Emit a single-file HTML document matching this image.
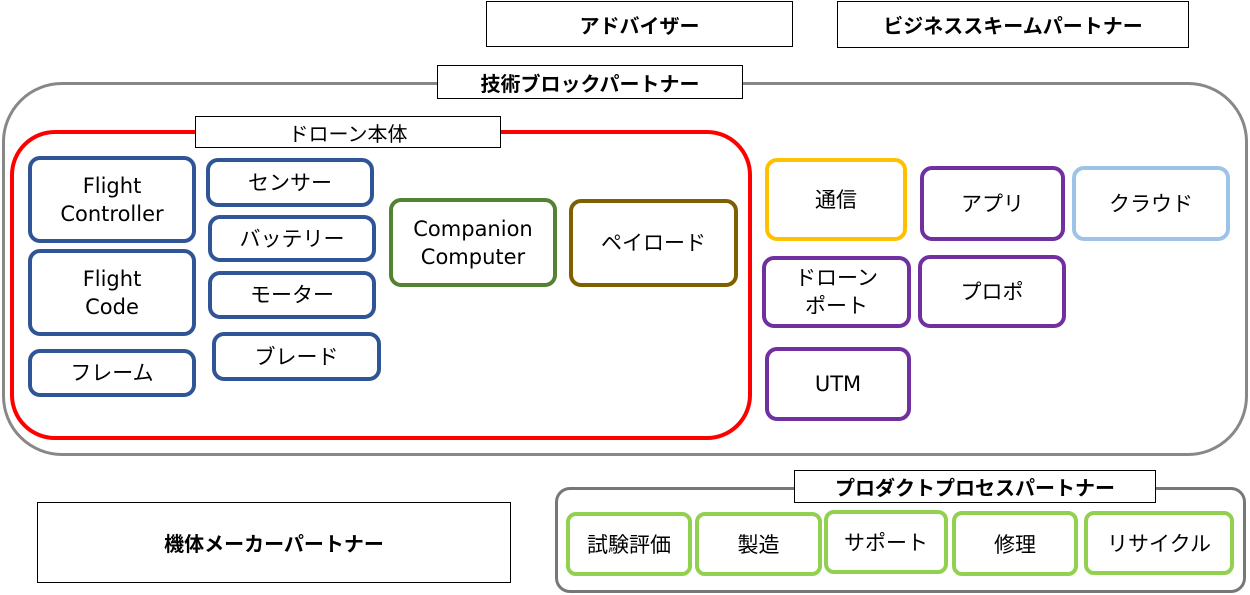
<!DOCTYPE html>
<html><head><meta charset="utf-8"><style>
body{margin:0;width:1250px;height:595px;background:#fff;position:relative;overflow:hidden;font-family:"DejaVu Sans","Noto Sans CJK JP",sans-serif;}
.b{position:absolute;box-sizing:border-box;display:flex;align-items:center;justify-content:center;text-align:center;color:#000;background:#fff;}
.lab{border:1.5px solid #000;font-weight:bold;font-size:20px;font-family:"Liberation Sans","Noto Sans CJK JP",sans-serif;}
.bl{border:4px solid #2f5597;border-radius:12px;font-size:21px;line-height:28px;}
.pu{border:4px solid #7030a0;border-radius:12px;font-size:21px;line-height:28px;}
.gr{border:4px solid #92d050;border-radius:10px;font-size:21px;}
</style></head><body>
<div class="b lab" style="left:486px;top:1px;width:307px;height:46px;">アドバイザー</div>
<div class="b lab" style="left:837px;top:1px;width:352px;height:47px;">ビジネススキームパートナー</div>
<div class="b" style="left:2px;top:82px;width:1246px;height:374px;border:3px solid #888;border-radius:60px;background:none;"></div>
<div class="b lab" style="left:437px;top:65px;width:306px;height:34px;">技術ブロックパートナー</div>
<div class="b" style="left:10px;top:130px;width:742px;height:310px;border:4px solid #f00;border-radius:45px;background:none;"></div>
<div class="b" style="left:195px;top:116px;width:306px;height:32px;border:1.5px solid #000;font-size:20px;">ドローン本体</div>
<div class="b bl" style="left:28px;top:156px;width:168px;height:87px;">Flight<br>Controller</div>
<div class="b bl" style="left:28px;top:249px;width:168px;height:87px;">Flight<br>Code</div>
<div class="b bl" style="left:28px;top:349px;width:168px;height:48px;">フレーム</div>
<div class="b bl" style="left:206px;top:158px;width:168px;height:49px;">センサー</div>
<div class="b bl" style="left:208px;top:215px;width:168px;height:47px;">バッテリー</div>
<div class="b bl" style="left:208px;top:271px;width:168px;height:48px;">モーター</div>
<div class="b bl" style="left:212px;top:332px;width:169px;height:49px;">ブレード</div>
<div class="b bl" style="left:389px;top:198px;width:168px;height:89px;border-color:#548235;">Companion<br>Computer</div>
<div class="b bl" style="left:569px;top:199px;width:169px;height:88px;border-color:#7f6000;">ペイロード</div>
<div class="b bl" style="left:765px;top:158px;width:142px;height:83px;border-color:#ffc000;">通信</div>
<div class="b pu" style="left:920px;top:166px;width:145px;height:75px;">アプリ</div>
<div class="b pu" style="left:1072px;top:166px;width:158px;height:75px;border-color:#9dc3e6;">クラウド</div>
<div class="b pu" style="left:762px;top:256px;width:149px;height:72px;">ドローン<br>ポート</div>
<div class="b pu" style="left:918px;top:255px;width:148px;height:73px;">プロポ</div>
<div class="b pu" style="left:765px;top:347px;width:146px;height:74px;">UTM</div>
<div class="b lab" style="left:37px;top:502px;width:474px;height:81px;">機体メーカーパートナー</div>
<div class="b" style="left:555px;top:487px;width:691px;height:106px;border:3px solid #777;border-radius:15px;"></div>
<div class="b lab" style="left:794px;top:470px;width:362px;height:33px;">プロダクトプロセスパートナー</div>
<div class="b gr" style="left:566px;top:512px;width:126px;height:64px;">試験評価</div>
<div class="b gr" style="left:695px;top:512px;width:127px;height:64px;">製造</div>
<div class="b gr" style="left:824px;top:510px;width:124px;height:64px;">サポート</div>
<div class="b gr" style="left:952px;top:511px;width:126px;height:65px;">修理</div>
<div class="b gr" style="left:1084px;top:511px;width:150px;height:64px;">リサイクル</div>
</body></html>
